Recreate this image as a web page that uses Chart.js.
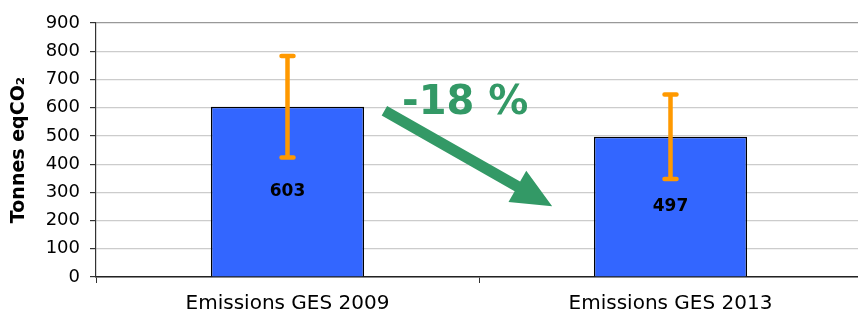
<!DOCTYPE html>
<html>
<head>
<meta charset="utf-8">
<script src="https://cdn.jsdelivr.net/npm/chart.js@4.4.1/dist/chart.umd.min.js"></script>
<style>
  html, body { margin: 0; padding: 0; background: #fff; overflow: hidden; }
  #wrap { width: 862px; height: 316px; }
</style>
</head>
<body>
<div id="wrap"><canvas id="gesChart"></canvas></div>
<script>
// Données
const categories = ['Emissions GES 2009', 'Emissions GES 2013'];
const emissions = [603, 497];
const incertitudes = [180, 150];
const yTicks = [0, 100, 200, 300, 400, 500, 600, 700, 800, 900];

// Variation entre 2009 et 2013
const variation = Math.round((emissions[1] - emissions[0]) / emissions[0] * 100);

const vert = '#339966';
const orange = '#FF9900';

// Barres d'erreur (incertitude)
const errorBars = {
    id: 'errorBars',
    afterDatasetsDraw(chart) {
        const ctx = chart.ctx;
        const y = chart.scales.y;
        const meta = chart.getDatasetMeta(0);
        ctx.save();
        ctx.strokeStyle = orange;
        ctx.lineWidth = 4.5;
        ctx.lineCap = 'round';
        meta.data.forEach((bar, i) => {
            const top = y.getPixelForValue(emissions[i] + incertitudes[i]);
            const bottom = y.getPixelForValue(emissions[i] - incertitudes[i]);
            ctx.beginPath();
            ctx.moveTo(bar.x, top);
            ctx.lineTo(bar.x, bottom);
            ctx.moveTo(bar.x - 6, top);
            ctx.lineTo(bar.x + 6, top);
            ctx.moveTo(bar.x - 6, bottom);
            ctx.lineTo(bar.x + 6, bottom);
            ctx.stroke();
        });
        ctx.restore();
    }
};

// Valeurs au milieu des barres
const barLabels = {
    id: 'barLabels',
    afterDatasetsDraw(chart) {
        const ctx = chart.ctx;
        const meta = chart.getDatasetMeta(0);
        ctx.save();
        ctx.font = 'bold 17px "DejaVu Sans"';
        ctx.fillStyle = '#000';
        ctx.textAlign = 'center';
        ctx.textBaseline = 'middle';
        meta.data.forEach((bar, i) => {
            ctx.fillText(String(emissions[i]), bar.x, (bar.y + bar.base) / 2);
        });
        ctx.restore();
    }
};

// Flèche verte et pourcentage
const fleche = {
    id: 'fleche',
    afterDatasetsDraw(chart) {
        const ctx = chart.ctx;
        const meta = chart.getDatasetMeta(0);
        const y = chart.scales.y;
        const x0 = meta.data[0].x, x1 = meta.data[1].x;
        const px = f => x0 + (x1 - x0) * f;

        const sx = px(0.253), sy = y.getPixelForValue(589);
        const tx = px(0.691), ty = y.getPixelForValue(251);
        const ang = Math.atan2(ty - sy, tx - sx);
        const len = Math.hypot(tx - sx, ty - sy);
        const headLen = 40, headW = 36, shaftW = 11;

        ctx.save();
        ctx.translate(sx, sy);
        ctx.rotate(ang);
        ctx.fillStyle = vert;
        ctx.beginPath();
        ctx.moveTo(0, -shaftW / 2);
        ctx.lineTo(len - headLen, -shaftW / 2);
        ctx.lineTo(len - headLen, -headW / 2);
        ctx.lineTo(len, 0);
        ctx.lineTo(len - headLen, headW / 2);
        ctx.lineTo(len - headLen, shaftW / 2);
        ctx.lineTo(0, shaftW / 2);
        ctx.closePath();
        ctx.fill();
        ctx.restore();

        ctx.save();
        ctx.font = 'bold 40px "DejaVu Sans"';
        ctx.fillStyle = vert;
        ctx.textAlign = 'center';
        ctx.textBaseline = 'middle';
        ctx.fillText(variation + ' %', px(0.464), y.getPixelForValue(614));
        ctx.restore();
    }
};

new Chart(document.getElementById('gesChart'), {
    type: 'bar',
    data: {
        labels: categories,
        datasets: [{
            data: emissions,
            backgroundColor: '#3366FF',
            borderColor: '#000',
            borderWidth: 1.5,
            barPercentage: 0.4,
            categoryPercentage: 1
        }]
    },
    options: {
        responsive: true,
        maintainAspectRatio: false,
        animation: false,
        layout: { padding: { top: 23, right: 0, bottom: 0, left: 0 } },
        plugins: {
            legend: { display: false },
            tooltip: { enabled: false }
        },
        scales: {
            x: {
                afterFit: s => { s.height = 39; },
                grid: {
                    offset: true,
                    drawOnChartArea: false,
                    tickLength: 6,
                    tickColor: '#333'
                },
                border: { color: '#222', width: 1.5 },
                ticks: {
                    color: '#000',
                    font: { family: 'DejaVu Sans', size: 20 },
                    padding: 9
                }
            },
            y: {
                min: 0,
                max: 900,
                afterFit: s => { s.width = 96; },
                afterBuildTicks: s => { s.ticks = yTicks.map(v => ({ value: v })); },
                grid: {
                    color: ctx => ctx.tick && ctx.tick.value === 900 ? '#999' : '#cccccc',
                    lineWidth: 1.2,
                    tickLength: 6,
                    tickColor: '#333'
                },
                border: { color: '#333', width: 1.2 },
                ticks: {
                    color: '#000',
                    font: { family: 'DejaVu Sans', size: 18 },
                    padding: 10
                },
                title: {
                    display: true,
                    text: 'Tonnes eqCO₂',
                    color: '#000',
                    font: { family: 'DejaVu Sans', size: 19, weight: 'bold' },
                    padding: { top: 8, bottom: 0 }
                }
            }
        }
    },
    plugins: [errorBars, barLabels, fleche]
});
</script>
</body>
</html>
